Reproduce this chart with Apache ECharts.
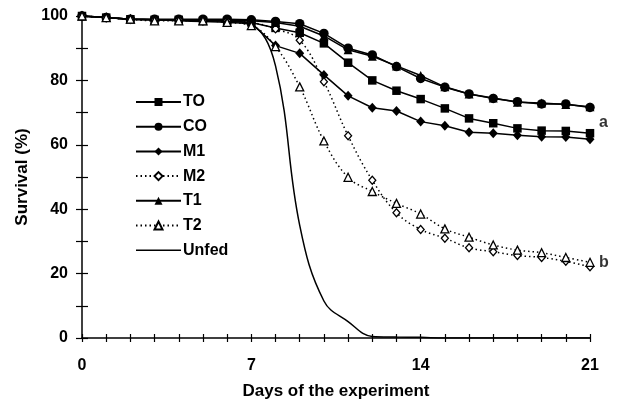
<!DOCTYPE html>
<html>
<head>
<meta charset="utf-8">
<script src="https://cdn.jsdelivr.net/npm/echarts@6/dist/echarts.min.js"></script>
<style>
html, body { margin: 0; padding: 0; background: #fff; }
#survival { width: 617px; height: 403px; }
</style>
</head>
<body>
<div id="survival"></div>
<script>
// days of the experiment
var days = [0, 1, 2, 3, 4, 5, 6, 7, 8, 9, 10, 11, 12, 13, 14, 15, 16, 17, 18, 19, 20, 21];
// survival (%) per group
var TO = [100, 99.5, 99, 98.8, 98.8, 98.5, 98.5, 98, 96.3, 94.8, 91.5, 85.5, 80, 76.8, 74.2, 71.3, 68.2, 66.7, 65.1, 64.4, 64.3, 63.6];
var CO = [100, 99.5, 99, 99, 99, 99, 99, 98.8, 98.3, 97.6, 94.6, 90, 87.9, 84.3, 80.6, 77.9, 75.8, 74.4, 73.4, 72.7, 72.7, 71.6];
var M1 = [100, 99.5, 99, 98.8, 98.8, 98.5, 98.5, 97.8, 90.8, 88.4, 81.7, 75.2, 71.5, 70.5, 67.2, 65.9, 63.9, 63.6, 63, 62.5, 62.4, 61.7];
var M2 = [100, 99.5, 99, 98.8, 98.8, 98.5, 98.5, 98, 96, 92.5, 79.6, 62.8, 49, 38.9, 33.7, 31, 28, 26.8, 25.6, 25, 23.8, 22.1];
var T1 = [100, 99.5, 99, 98.8, 98.8, 98.5, 98.5, 98.5, 98, 96.8, 93.8, 89.5, 87.5, 84.5, 81.5, 78, 75.8, 74.5, 73.2, 73, 72.5, 71.8];
var T2 = [100, 99.5, 99, 98.5, 98.5, 98.5, 98, 97, 90.5, 78, 61.2, 49.9, 45.5, 41.8, 38.5, 33.9, 31.3, 28.9, 27.3, 26.5, 25, 23.5];
var Unfed = [100, 99.5, 99, 98.8, 98.5, 98.3, 98, 97.2, 84.5, 35, 11.5, 5.1, 0.5, 0.3, 0.2, 0, 0, 0, 0, 0, 0, 0];
// group letters at the right end
var noteNames = ['a', 'b'];
var noteValues = [66.8, 23.3];
// tick labels
var xTickLabels = [0, 7, 14, 21];
var yTickLabels = [0, 20, 40, 60, 80, 100];

var FONT = 'Liberation Sans';

function pairs(vals) {
    return days.map(function (d, i) { return [d, vals[i]]; });
}

function lineSeries(name, vals, symbol, size, open, dotted, smooth) {
    return {
        name: name,
        type: 'line',
        data: pairs(vals),
        xAxisIndex: 0,
        yAxisIndex: 0,
        symbol: symbol,
        symbolSize: size,
        showSymbol: symbol !== 'none',
        smooth: smooth,
        animation: false,
        lineStyle: {
            color: '#000',
            width: 1.5,
            type: dotted ? [1.5, 3] : 'solid'
        },
        itemStyle: {
            color: open ? '#fff' : '#000',
            borderColor: '#000',
            borderWidth: open ? 1.3 : 0
        },
        emphasis: { disabled: true }
    };
}

function xAxisBase(inside) {
    return {
        type: 'value',
        min: 0,
        max: 21,
        interval: 1,
        position: 'bottom',
        axisLine: { show: !inside, onZero: false, lineStyle: { color: '#000', width: 1.5 } },
        axisTick: { show: true, inside: inside, length: 4, lineStyle: { color: '#000', width: 1.2 } },
        splitLine: { show: false },
        axisLabel: {
            show: !inside,
            margin: 20,
            color: '#000',
            fontFamily: FONT,
            fontWeight: 'bold',
            fontSize: 16,
            formatter: function (v) { return xTickLabels.indexOf(v) >= 0 ? String(v) : ''; }
        }
    };
}

function yAxisBase(inside) {
    return {
        type: 'value',
        min: 0,
        max: 100,
        interval: 10,
        position: 'left',
        axisLine: { show: !inside, onZero: false, lineStyle: { color: '#000', width: 1.5 } },
        axisTick: { show: true, inside: inside, length: 6, lineStyle: { color: '#000', width: 1.2 } },
        splitLine: { show: false },
        axisLabel: {
            show: !inside,
            margin: 14,
            color: '#000',
            fontFamily: FONT,
            fontWeight: 'bold',
            fontSize: 16,
            formatter: function (v) { return yTickLabels.indexOf(v) >= 0 ? String(v) : ''; }
        }
    };
}

var xMain = xAxisBase(false);
xMain.name = 'Days of the experiment';
xMain.nameLocation = 'middle';
xMain.nameGap = 45;
xMain.nameTextStyle = { color: '#000', fontFamily: FONT, fontWeight: 'bold', fontSize: 17 };

var yMain = yAxisBase(false);
yMain.name = 'Survival (%)';
yMain.nameLocation = 'middle';
yMain.nameGap = 48;
yMain.nameTextStyle = { color: '#000', fontFamily: FONT, fontWeight: 'bold', fontSize: 17 };

var legendNames = ['TO', 'CO', 'M1', 'M2', 'T1', 'T2', 'Unfed'];

var option = {
    backgroundColor: '#fff',
    animation: false,
    grid: { left: 82, right: 27, top: 16, bottom: 65, containLabel: false, outerBoundsMode: 'none' },
    legend: {
        left: 130,
        top: 89,
        orient: 'vertical',
        itemWidth: 45,
        itemHeight: 10,
        itemGap: 8.7,
        selectedMode: false,
        symbolKeepAspect: true,
        data: legendNames.map(function (n) {
            // plain line for the unfed group
            return n === 'Unfed' ? { name: n, icon: 'path://M0,0L45,0L45,1.5L0,1.5Z' } : { name: n };
        }),
        textStyle: { color: '#000', fontFamily: FONT, fontWeight: 'bold', fontSize: 16, lineHeight: 16, padding: [0, 0, 0, -3] }
    },
    xAxis: [xMain, xAxisBase(true)],
    yAxis: [yMain, yAxisBase(true)],
    series: [
        lineSeries('TO', TO, 'rect', 8.5, false, false, false),
        lineSeries('CO', CO, 'circle', 9.5, false, false, false),
        lineSeries('M1', M1, 'diamond', [9, 10], false, false, false),
        lineSeries('M2', M2, 'diamond', [7, 8], true, true, 0.4),
        lineSeries('T1', T1, 'triangle', 9, false, false, false),
        lineSeries('T2', T2, 'triangle', 8, true, true, 0.4),
        lineSeries('Unfed', Unfed, 'none', 0, false, false, 0.4),
        {
            name: 'notes',
            type: 'scatter',
            symbolSize: 0,
            animation: false,
            data: noteNames.map(function (n, i) { return { name: n, value: [21, noteValues[i]] }; }),
            label: {
                show: true,
                position: 'right',
                distance: 9,
                color: '#000',
                fontFamily: FONT,
                fontWeight: 'bold',
                fontSize: 16,
                formatter: function (p) { return p.name; }
            },
            emphasis: { disabled: true }
        }
    ]
};

var chart = echarts.init(document.getElementById('survival'), null, { renderer: 'canvas' });
chart.setOption(option);
</script>
</body>
</html>
